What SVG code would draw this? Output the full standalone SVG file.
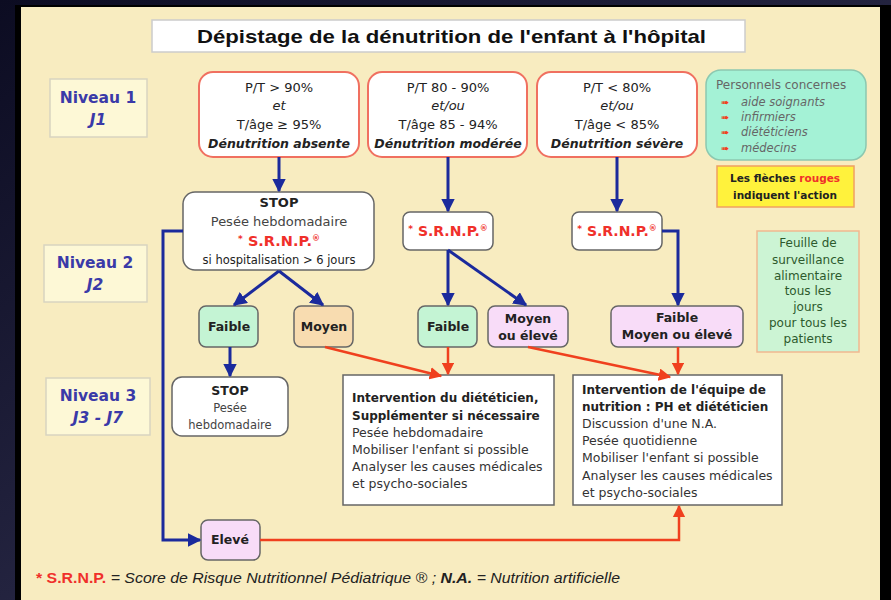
<svg xmlns="http://www.w3.org/2000/svg" width="891" height="600" viewBox="0 0 891 600">
<defs>
<linearGradient id="bg" x1="0" y1="0" x2="1" y2="1">
<stop offset="0" stop-color="#0c0c22"/><stop offset="1" stop-color="#3a3a5c"/>
</linearGradient>
<marker id="ab" viewBox="0 0 10 10" refX="9" refY="5" markerWidth="4.6" markerHeight="4.6" orient="auto" markerUnits="strokeWidth"><path d="M0,0 L10,5 L0,10 z" fill="#1b2a9c"/></marker>
<marker id="ar" viewBox="0 0 10 10" refX="9" refY="5" markerWidth="5" markerHeight="5" orient="auto" markerUnits="strokeWidth"><path d="M0,0 L10,5 L0,10 z" fill="#f0401e"/></marker>
<style>
text{font-family:"DejaVu Sans","Liberation Sans",sans-serif;}
.t{font-size:13px;fill:#222;text-anchor:middle;}
.b{font-weight:bold;}
.i{font-style:italic;}
.top{fill:#fff;stroke:#f07060;stroke-width:2;}
.nv{fill:#fdf8d6;stroke:#d8d4c0;stroke-width:1.5;}
.nvt{font-size:15.5px;font-weight:bold;fill:#3a3aa8;text-anchor:middle;}
.wb{fill:#fff;stroke:#666;stroke-width:1.5;}
.g{fill:#c4f4d4;stroke:#666;stroke-width:1.5;}
.tan{fill:#f8dcb0;stroke:#666;stroke-width:1.5;}
.pk{fill:#f8dcf8;stroke:#666;stroke-width:1.5;}
.red{fill:#f0302a;}
.srnp{font-size:14.5px;font-weight:bold;fill:#f0302a;text-anchor:middle;}
.bl{fill:none;stroke:#1b2a9c;stroke-width:3;marker-end:url(#ab);}
.rl{fill:none;stroke:#f0401e;stroke-width:2.5;marker-end:url(#ar);}
.lt{font-size:12.5px;fill:#333;}
.ltb{font-size:12px;fill:#222;font-weight:bold;}
.sm{font-size:12.5px;font-weight:bold;fill:#222;text-anchor:middle;}
</style>
</defs>
<rect x="0" y="0" width="891" height="600" fill="url(#bg)"/>
<rect x="15" y="5" width="876" height="595" fill="#000"/>
<rect x="21" y="7" width="859" height="593" fill="#f8ecc0"/>

<g id="title">
<rect x="152" y="20" width="593" height="32" fill="#fff" stroke="#ccc" stroke-width="1.5"/>
<text x="197" y="43" textLength="509" lengthAdjust="spacingAndGlyphs" style="font-family:'Liberation Sans',Arial,sans-serif;font-size:19px;font-weight:bold;fill:#111">Dépistage de la dénutrition de l'enfant à l'hôpital</text>
</g>

<g id="niveau1"><rect x="50" y="79" width="97" height="58" class="nv"/>
<text x="98" y="103" class="nvt">Niveau 1</text><text x="98" y="125" class="nvt i">J1</text></g>
<g id="niveau2"><rect x="44" y="245" width="103" height="57" class="nv"/>
<text x="95" y="268" class="nvt">Niveau 2</text><text x="95" y="290" class="nvt i">J2</text></g>
<g id="niveau3"><rect x="46" y="378" width="104" height="57" class="nv"/>
<text x="98" y="401" class="nvt">Niveau 3</text><text x="98" y="423" class="nvt i">J3 - J7</text></g>

<g id="box1"><rect x="199" y="72" width="160" height="85" rx="14" class="top"/>
<text x="279" y="92" class="t">P/T &gt; 90%</text>
<text x="279" y="110" class="t i">et</text>
<text x="279" y="129" class="t">T/âge ≥ 95%</text>
<text x="279" y="148" class="t i b" style="font-size:12.5px">Dénutrition absente</text></g>
<g id="box2"><rect x="368" y="72" width="159" height="85" rx="14" class="top"/>
<text x="448" y="92" class="t">P/T 80 - 90%</text>
<text x="448" y="110" class="t i">et/ou</text>
<text x="448" y="129" class="t">T/âge 85 - 94%</text>
<text x="448" y="148" class="t i b" style="font-size:12.5px">Dénutrition modérée</text></g>
<g id="box3"><rect x="537" y="72" width="160" height="85" rx="14" class="top"/>
<text x="617" y="92" class="t">P/T &lt; 80%</text>
<text x="617" y="110" class="t i">et/ou</text>
<text x="617" y="129" class="t">T/âge &lt; 85%</text>
<text x="617" y="148" class="t i b" style="font-size:12.5px">Dénutrition sévère</text></g>

<g id="personnels"><rect x="706" y="70" width="160" height="90" rx="15" fill="#a4f2d6" stroke="#8cc8b0" stroke-width="1.5"/>
<text x="716" y="89" style="font-size:12px;fill:#666">Personnels concernes</text>
<g style="font-size:10px;fill:#f04020">
<text x="721" y="106">➠</text>
<text x="721" y="121">➠</text>
<text x="721" y="136">➠</text>
<text x="721" y="152">➠</text></g>
<g style="font-size:11.5px;fill:#666;font-style:italic">
<text x="741" y="106">aide soignants</text>
<text x="741" y="121">infirmiers</text>
<text x="741" y="136">diététiciens</text>
<text x="741" y="152">médecins</text></g></g>

<g id="legende"><rect x="717" y="166" width="137" height="41" fill="#fff23c" stroke="#f0a060" stroke-width="1.5"/>
<text x="785" y="182" class="t b" style="font-size:10.5px">Les flèches <tspan class="red">rouges</tspan></text>
<text x="785" y="199" class="t b" style="font-size:10.5px">indiquent l'action</text></g>

<g id="feuille"><rect x="757" y="231" width="102" height="121" fill="#ccf4d4" stroke="#f0b890" stroke-width="1.5"/>
<g class="t" style="font-size:12px;fill:#2d5a2d">
<text x="808" y="247">Feuille de</text><text x="808" y="264">surveillance</text>
<text x="808" y="280">alimentaire</text><text x="808" y="295">tous les</text>
<text x="808" y="311">jours</text><text x="808" y="327">pour tous les</text>
<text x="808" y="343">patients</text></g></g>

<g id="stop1"><rect x="183" y="192" width="191" height="78" rx="12" class="wb"/>
<text x="279" y="207" class="t b">STOP</text>
<text x="279" y="226" class="t" style="fill:#444">Pesée hebdomadaire</text>
<text x="279" y="246" class="srnp"><tspan style="font-size:9px" dy="-4">*</tspan><tspan dy="4"> S.R.N.P.</tspan><tspan style="font-size:8px" dy="-5">®</tspan></text>
<text x="279" y="264" class="t" style="font-size:11.5px">si hospitalisation &gt; 6 jours</text></g>

<g id="srnp2"><rect x="403" y="212" width="90" height="38" rx="7" class="wb"/>
<text x="448" y="236" class="srnp" style="font-size:14px"><tspan style="font-size:9px" dy="-4">*</tspan><tspan dy="4"> S.R.N.P.</tspan><tspan style="font-size:8px" dy="-5">®</tspan></text></g>
<g id="srnp3"><rect x="572" y="212" width="90" height="38" rx="7" class="wb"/>
<text x="617" y="236" class="srnp" style="font-size:14px"><tspan style="font-size:9px" dy="-4">*</tspan><tspan dy="4"> S.R.N.P.</tspan><tspan style="font-size:8px" dy="-5">®</tspan></text></g>

<g id="faible1"><rect x="199" y="306" width="59" height="41" rx="7" class="g"/>
<text x="229" y="331" class="sm">Faible</text></g>
<g id="moyen1"><rect x="294" y="306" width="59" height="41" rx="7" class="tan"/>
<text x="324" y="331" class="sm">Moyen</text></g>
<g id="faible2"><rect x="418" y="306" width="59" height="41" rx="7" class="g"/>
<text x="448" y="331" class="sm">Faible</text></g>
<g id="moyenElev"><rect x="488" y="306" width="80" height="41" rx="7" class="pk"/>
<text x="528" y="323" class="sm">Moyen</text><text x="528" y="340" class="sm">ou élevé</text></g>
<g id="fmoe"><rect x="611" y="306" width="132" height="41" rx="7" class="pk"/>
<text x="677" y="322" class="sm">Faible</text><text x="677" y="339" class="sm">Moyen ou élevé</text></g>

<g id="stop2"><rect x="172" y="377" width="116" height="59" rx="10" class="wb"/>
<text x="230" y="395" class="sm">STOP</text>
<text x="230" y="412" class="t" style="font-size:11.5px;fill:#444">Pesée</text>
<text x="230" y="429" class="t" style="font-size:11.5px;fill:#444">hebdomadaire</text></g>

<g id="intervention1"><rect x="343" y="375" width="211" height="130" class="wb"/>
<text x="352" y="402" class="ltb">Intervention du diététicien,</text>
<text x="352" y="420" class="ltb">Supplémenter si nécessaire</text>
<text x="352" y="437" class="lt">Pesée hebdomadaire</text>
<text x="352" y="454" class="lt">Mobiliser l'enfant si possible</text>
<text x="352" y="471" class="lt">Analyser les causes médicales</text>
<text x="352" y="488" class="lt">et psycho-sociales</text></g>

<g id="intervention2"><rect x="573" y="375" width="209" height="130" class="wb"/>
<text x="582" y="394" class="ltb">Intervention de l'équipe de</text>
<text x="582" y="411" class="ltb">nutrition : PH et diététicien</text>
<text x="582" y="428" class="lt">Discussion  d'une N.A.</text>
<text x="582" y="445" class="lt">Pesée quotidienne</text>
<text x="582" y="462" class="lt">Mobiliser l'enfant si possible</text>
<text x="582" y="480" class="lt">Analyser les causes médicales</text>
<text x="582" y="497" class="lt">et psycho-sociales</text></g>

<g id="eleve"><rect x="201" y="520" width="59" height="40" rx="7" class="pk"/>
<text x="230" y="544" class="sm">Elevé</text></g>

<g id="connectors">
<line x1="279" y1="157" x2="279" y2="191" class="bl"/>
<line x1="448" y1="157" x2="448" y2="211" class="bl"/>
<line x1="617" y1="157" x2="617" y2="211" class="bl"/>
<line x1="279" y1="271" x2="234" y2="305" class="bl"/>
<line x1="279" y1="271" x2="323" y2="305" class="bl"/>
<line x1="448" y1="250" x2="448" y2="305" class="bl"/>
<line x1="448" y1="250" x2="526" y2="305" class="bl"/>
<path d="M662,231 H678 V305" class="bl"/>
<line x1="230" y1="347" x2="230" y2="376" class="bl"/>
<path d="M183,231 H163 V540 H200" class="bl"/>
<line x1="325" y1="347" x2="441" y2="376" class="rl"/>
<line x1="448" y1="347" x2="448" y2="374" class="rl"/>
<line x1="528" y1="347" x2="670" y2="377" class="rl"/>
<line x1="678" y1="347" x2="678" y2="374" class="rl"/>
<path d="M260,540 H679 V506" class="rl"/>
</g>

<g id="footnote">
<text x="36" y="583" textLength="584" lengthAdjust="spacingAndGlyphs" style="font-family:'Liberation Sans',Arial,sans-serif;font-size:14px;fill:#222;font-style:italic"><tspan style="fill:#f0302a;font-weight:bold;font-style:normal">* S.R.N.P.</tspan> = Score de Risque Nutritionnel Pédiatrique ®  ;  <tspan style="font-weight:bold">N.A.</tspan> = Nutrition artificielle</text>
</g>
</svg>
